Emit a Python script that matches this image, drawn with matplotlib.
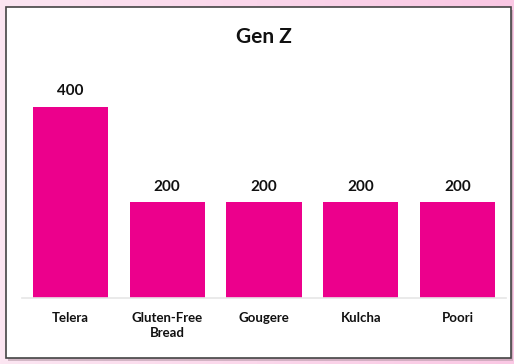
import matplotlib
matplotlib.use("Agg")
import matplotlib.pyplot as plt
from matplotlib.patches import Rectangle
import numpy as np

categories = ["Telera", "Gluten-Free\nBread", "Gougere", "Kulcha", "Poori"]
values = [400, 200, 200, 200, 200]
title = "Gen Z"

plt.rcParams["font.family"] = ["Lato", "DejaVu Sans"]

W, H = 514, 364
fig = plt.figure(figsize=(W / 100, H / 100), dpi=100)

# pink gradient background
bg = fig.add_axes([0, 0, 1, 1], zorder=-2)
grad = np.linspace(0, 1, 256)[None, :]
c0 = np.array([252, 230, 242]) / 255
c1 = np.array([250, 200, 228]) / 255
img = c0[None, None, :] * (1 - grad[..., None]) + c1[None, None, :] * grad[..., None]
bg.imshow(img, aspect="auto", extent=[0, 1, 0, 1])
bg.set_xlim(0, 1)
bg.set_ylim(0, 1)
bg.axis("off")

# card with shadow
x0, y0, x1, y1 = 6, 7, 511, 358
bg.add_patch(Rectangle(((x0 + 2) / W, 1 - (y1 + 3) / H), (x1 - x0) / W, (y1 - y0) / H,
                       facecolor="#b89aa9", edgecolor="none", alpha=0.6, zorder=1))
bg.add_patch(Rectangle((x0 / W, 1 - y1 / H), (x1 - x0) / W, (y1 - y0) / H,
                       facecolor="white", edgecolor="#444444", linewidth=1.2, zorder=2))

fig.text(264 / W, 1 - 37 / H, title, ha="center", va="center",
         fontsize=15, fontweight="bold", color="#111111")

left, right, bottom, top = 22, 506, 298, 60
ax = fig.add_axes([left / W, 1 - bottom / H, (right - left) / W, (bottom - top) / H])
ax.patch.set_alpha(0)
x = np.arange(len(categories))
bars = ax.bar(x, values, width=0.775, color="#EC008C")
ax.set_xlim(-0.5, len(categories) - 0.5)
ax.set_ylim(0, 498)
for b, v in zip(bars, values):
    ax.text(b.get_x() + b.get_width() / 2, v + 33, str(v), ha="center", va="center",
            fontsize=11, fontweight="bold", color="#111111")
ax.set_xticks(x)
ax.set_xticklabels(categories, fontsize=9.5, fontweight="bold", color="#111111", linespacing=1.35)
ax.tick_params(axis="x", length=0, pad=10)
ax.set_yticks([])
for s in ["top", "left", "right"]:
    ax.spines[s].set_visible(False)
ax.spines["bottom"].set_color("#e6e6e6")
ax.spines["bottom"].set_linewidth(1.2)

fig.savefig("out.png", dpi=100)
